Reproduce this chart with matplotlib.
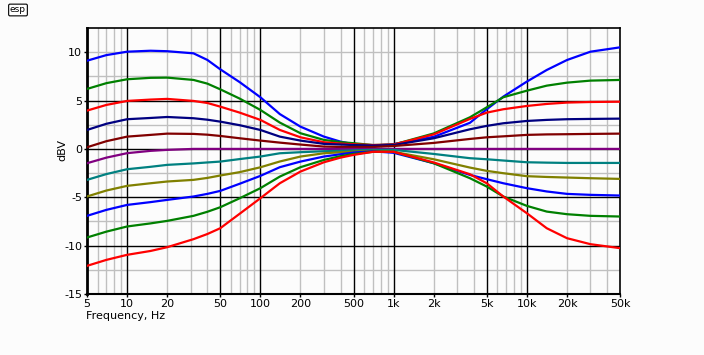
import matplotlib
matplotlib.use("Agg")
import matplotlib.pyplot as plt
import numpy as np

freq = [5, 7, 10, 15, 20, 31.5, 40, 50, 70, 100, 140, 200, 300, 400, 500, 700, 1000,
        2000, 3740, 5000, 6650, 10000, 14100, 20000, 30000, 50000]

series = {
    "boost_blue":   [9.12, 9.7, 10.05, 10.15, 10.1, 9.88, 9.2, 8.23, 6.9, 5.34, 3.6, 2.3, 1.27, 0.75, 0.48, 0.34, 0.5,
                     1.25, 2.7, 4.1, 5.4, 6.96, 8.16, 9.19, 10.05, 10.5],
    "boost_green":  [6.2, 6.8, 7.2, 7.35, 7.37, 7.13, 6.75, 6.16, 5.2, 4.03, 2.72, 1.62, 0.93, 0.7, 0.59, 0.4, 0.45,
                     1.6, 3.27, 4.3, 5.34, 6.02, 6.54, 6.85, 7.06, 7.13],
    "boost_red":    [3.96, 4.55, 4.96, 5.1, 5.17, 4.96, 4.75, 4.37, 3.75, 3.0, 1.96, 1.2, 0.69, 0.55, 0.48, 0.4, 0.45,
                     1.5, 3.1, 3.75, 4.1, 4.44, 4.65, 4.79, 4.85, 4.88],
    "boost_navy":   [1.96, 2.6, 3.07, 3.2, 3.3, 3.17, 3.02, 2.82, 2.45, 1.96, 1.27, 0.86, 0.52, 0.45, 0.4, 0.35, 0.4,
                     1.1, 2.03, 2.38, 2.65, 2.89, 3.0, 3.07, 3.1, 3.13],
    "boost_maroon": [0.17, 0.8, 1.27, 1.45, 1.58, 1.55, 1.47, 1.34, 1.1, 0.86, 0.65, 0.45, 0.24, 0.2, 0.2, 0.2, 0.3,
                     0.62, 1.03, 1.2, 1.3, 1.45, 1.5, 1.52, 1.55, 1.58],
    "flat_purple":  [-1.48, -0.9, -0.44, -0.2, -0.1, 0.0, 0.0, 0.0, 0.0, 0.0, 0.0, 0.0, 0.0, 0.0, 0.0, 0.0, 0.0,
                     0.0, 0.0, 0.0, 0.0, 0.0, 0.0, 0.0, 0.0, 0.0],
    "cut_teal":     [-3.2, -2.6, -2.1, -1.85, -1.65, -1.5, -1.4, -1.31, -1.05, -0.79, -0.45, -0.34, -0.24, -0.2, -0.15, -0.1, -0.1,
                     -0.52, -0.96, -1.07, -1.2, -1.38, -1.42, -1.45, -1.45, -1.45],
    "cut_olive":    [-4.92, -4.3, -3.82, -3.55, -3.37, -3.2, -3.0, -2.75, -2.4, -1.9, -1.3, -0.79, -0.45, -0.35, -0.28, -0.2, -0.3,
                     -1.07, -1.93, -2.27, -2.51, -2.82, -2.9, -2.96, -3.03, -3.1],
    "cut_blue":     [-6.92, -6.3, -5.79, -5.5, -5.27, -4.92, -4.65, -4.34, -3.6, -2.79, -1.89, -1.31, -0.79, -0.55, -0.38, -0.25, -0.4,
                     -1.48, -2.69, -3.13, -3.55, -4.06, -4.4, -4.65, -4.75, -4.82],
    "cut_green":    [-9.16, -8.55, -8.02, -7.7, -7.44, -6.92, -6.5, -6.03, -5.1, -4.06, -2.86, -1.89, -1.14, -0.75, -0.52, -0.3, -0.3,
                     -1.48, -3.03, -3.89, -4.92, -5.89, -6.48, -6.75, -6.92, -6.99],
    "cut_red":      [-12.09, -11.47, -10.95, -10.55, -10.16, -9.33, -8.8, -8.2, -6.7, -5.1, -3.55, -2.34, -1.38, -0.9, -0.62, -0.3, -0.3,
                     -1.4, -2.62, -3.55, -4.92, -6.65, -8.2, -9.23, -9.85, -10.26],
}
colors = {
    "boost_blue": "#0000FF", "boost_green": "#008000", "boost_red": "#FF0000",
    "boost_navy": "#000080", "boost_maroon": "#800000", "flat_purple": "#800080",
    "cut_teal": "#008080", "cut_olive": "#808000", "cut_blue": "#0000FF",
    "cut_green": "#008000", "cut_red": "#FF0000",
}

xtick_vals = [5, 10, 20, 50, 100, 200, 500, 1000, 2000, 5000, 10000, 20000, 50000]
xtick_labels = ["5", "10", "20", "50", "100", "200", "500", "1k", "2k", "5k", "10k", "20k", "50k"]
ytick_vals = [-15, -10, -5, 0, 5, 10]

fig = plt.figure(figsize=(7.04, 3.55), dpi=100)
fig.patch.set_facecolor("#FCFCFC")
ax = fig.add_axes([87/704, 1-294/355, (620-87)/704, (294-28)/355])
ax.set_facecolor("#FCFCFC")
ax.set_xscale("log")
ax.set_xlim(5, 50000)
ax.set_ylim(-15, 12.5)

# grid
major_v = [10, 50, 100, 500, 1000, 5000, 10000]
minor_v = []
for dec in [1, 10, 100, 1000, 10000]:
    for m in range(2, 10):
        v = m * dec
        if 5 < v < 50000 and v not in major_v:
            minor_v.append(v)
for v in minor_v:
    ax.axvline(v, color="#C0C0C0", lw=1.0, zorder=1)
for v in major_v:
    ax.axvline(v, color="black", lw=1.0, zorder=1.5)
for h in [-12.5, -7.5, -2.5, 2.5, 7.5, 10]:
    ax.axhline(h, color="#C0C0C0", lw=1.0, zorder=1)
for h in [-10, -5, 0, 5]:
    ax.axhline(h, color="black", lw=1.0, zorder=1.5)

for name, vals in series.items():
    ax.plot(freq, vals, color=colors[name], lw=1.6, zorder=3, solid_joinstyle="round")

ax.set_xticks(xtick_vals)
ax.set_xticklabels(xtick_labels)
ax.xaxis.set_minor_locator(matplotlib.ticker.NullLocator())
ax.set_yticks(ytick_vals)
ax.set_yticklabels([str(v) for v in ytick_vals])
ax.tick_params(axis="both", direction="out", length=2.5, width=1, labelsize=8, pad=1, colors="black")
for s in ax.spines.values():
    s.set_linewidth(1.2)
    s.set_color("black")
ax.spines["left"].set_linewidth(2)
ax.spines["bottom"].set_linewidth(1.5)

fig.text(62/704, 1-150/355, "dBV", rotation=90, ha="center", va="center", fontsize=8)
fig.text(86/704, 1-316/355, "Frequency, Hz", ha="left", va="center", fontsize=8)
fig.text(18/704, 1-10/355, "esp", ha="center", va="center", fontsize=6.5,
         bbox=dict(boxstyle="round,pad=0.15", fc="white", ec="black", lw=0.8))

fig.savefig("out.png", dpi=100, facecolor=fig.get_facecolor())
